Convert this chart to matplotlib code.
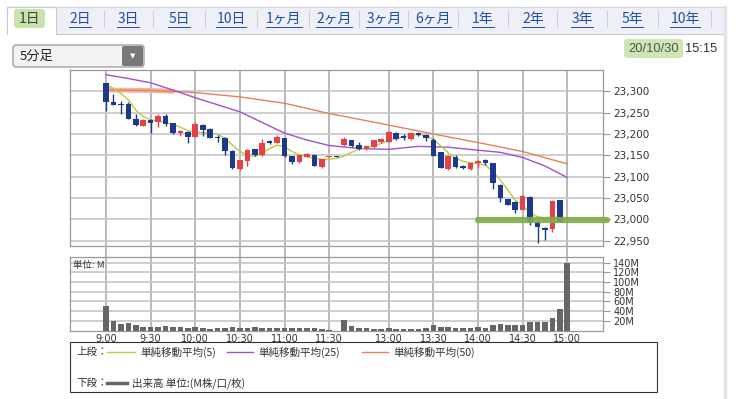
import matplotlib
matplotlib.use("Agg")
import matplotlib.pyplot as plt
from matplotlib.patches import Rectangle, FancyBboxPatch
import numpy as np

plt.rcParams['font.family'] = ['Noto Sans CJK JP', 'DejaVu Sans']

W, H = 737, 399

# 5分足: slot 0 = 9:00 ... 30/31 = 前場引け, 32 = 12:30 ... 62 = 15:00
opens = [23319, 23274, 23271, 23270, 23236, 23219, 23233, 23227, 23243, 23225,
         23202, 23205, 23194, 23221, 23212, 23194, 23190, 23161, 23117, 23137,
         23164, 23150, 23184, 23180, 23190, 23148, 23134, 23147, 23151, 23123,
         23146, 23148,
         23174, 23186, 23174, 23166, 23170, 23182, 23182, 23202, 23196, 23188,
         23202, 23198, 23186, 23157, 23118, 23147, 23126, 23118, 23131, 23139,
         23131, 23080, 23047, 23041, 23022, 23053, 22994, 22979, 22977, 23045,
         22974]
highs = [23320, 23294, 23278, 23276, 23248, 23234, 23235, 23246, 23246, 23226,
         23209, 23206, 23227, 23223, 23215, 23197, 23194, 23162, 23140, 23166,
         23165, 23188, 23187, 23197, 23191, 23149, 23151, 23155, 23152, 23142,
         23148, 23148,
         23194, 23187, 23181, 23173, 23187, 23190, 23207, 23204, 23199, 23203,
         23204, 23200, 23190, 23158, 23150, 23150, 23128, 23135, 23138, 23141,
         23132, 23082, 23048, 23042, 23056, 23054, 22996, 22983, 23045, 23046,
         22976]
lows = [23255, 23268, 23246, 23235, 23219, 23218, 23203, 23217, 23219, 23201,
        23195, 23178, 23193, 23195, 23190, 23181, 23151, 23119, 23116, 23126,
        23149, 23149, 23177, 23179, 23147, 23130, 23133, 23146, 23125, 23120,
        23146, 23146,
        23172, 23170, 23163, 23163, 23167, 23178, 23181, 23186, 23187, 23186,
        23196, 23184, 23148, 23120, 23115, 23121, 23117, 23115, 23122, 23127,
        23072, 23040, 23033, 23016, 23021, 22986, 22945, 22952, 22971, 22993,
        22974]
closes = [23274, 23269, 23267, 23236, 23222, 23233, 23225, 23243, 23223, 23202,
          23207, 23194, 23223, 23209, 23191, 23190, 23159, 23120, 23139, 23163,
          23150, 23180, 23179, 23194, 23148, 23134, 23150, 23153, 23126, 23141,
          23148, 23146,
          23188, 23173, 23166, 23172, 23186, 23188, 23205, 23188, 23190, 23202,
          23198, 23190, 23149, 23121, 23149, 23122, 23121, 23133, 23137, 23132,
          23084, 23049, 23034, 23022, 23055, 22994, 22981, 22974, 23044, 22994,
          22976]
volumes = [51, 19, 14, 16, 11, 8, 8, 8, 9, 8, 7, 6, 8, 6, 4, 5, 5, 7, 6, 5,
           7, 6, 5, 6, 5, 5, 6, 5, 6, 3, 1, 0,
           21, 9, 5, 5, 4, 4, 5, 3, 3, 3, 4, 5, 11, 8, 7, 6, 5, 6,
           7, 5, 11, 13, 11, 11, 11, 18, 18, 18, 26, 45, 140]

# 移動平均 (読み取り値)
sma5 = [23315, 23307, 23295, 23280, 23256, 23241, 23233, 23230, 23227, 23223,
        23216, 23208, 23205, 23203, 23202, 23199, 23190, 23174, 23159, 23151,
        23147, 23155, 23166, 23174, 23170, 23159, 23151, 23147, 23143, 23141,
        23141, 23143, 23149, 23157, 23164, 23168, 23172, 23178, 23184, 23190,
        23194, 23196, 23199, 23196, 23188, 23172, 23156, 23143, 23136, 23132,
        23131, 23127, 23112, 23092, 23069, 23045, 23033, 23015, 23006, 23003,
        23006, 23002]
sma25_slots = [0, 3, 6, 9, 12, 18, 24, 27, 30, 34, 38, 42, 46, 50, 53, 56, 59, 62]
sma25 = [23339, 23330, 23320, 23303, 23285, 23252, 23202, 23186, 23173, 23166,
         23164, 23171, 23169, 23162, 23157, 23145, 23125, 23098]
sma50_slots = [0, 6, 9, 12, 18, 24, 30, 38, 44, 50, 56, 62]
sma50 = [23303, 23302, 23300, 23297, 23287, 23272, 23248, 23221, 23200, 23180,
         23159, 23130]

time_slots = [0, 6, 12, 18, 24, 30, 38, 44, 50, 56, 62]
time_labels = ['9:00', '9:30', '10:00', '10:30', '11:00', '11:30',
               '13:00', '13:30', '14:00', '14:30', '15:00']
price_ticks = [22950, 23000, 23050, 23100, 23150, 23200, 23250, 23300]
vol_ticks = [20, 40, 60, 80, 100, 120, 140]

tabs = ['1日', '2日', '3日', '5日', '10日', '1ヶ月', '2ヶ月', '3ヶ月', '6ヶ月',
        '1年', '2年', '3年', '5年', '10年']
tab_x = [30, 80, 128, 179, 231, 284, 334, 384, 433, 483, 533, 582, 632, 685]

BLUE = '#1c3a8c'
RED = '#e6414b'
GRID_H = '#c6c6c6'
GRID_V = '#b2b2b2'
FRAME = '#9a9a9a'


def rect(l, t, r, b):
    return [l / W, 1 - b / H, (r - l) / W, (b - t) / H]


fig = plt.figure(figsize=(W / 100, H / 100), dpi=100, facecolor='white')

# 背景レイヤー (ピクセル座標)
bg = fig.add_axes([0, 0, 1, 1])
bg.set_xlim(0, W)
bg.set_ylim(H, 0)
bg.axis('off')

# タブ
bg.add_patch(Rectangle((7, 7), 718, 27, facecolor='#eff0f7', edgecolor='none'))
bg.plot([7, 725], [7, 7], color='#d6d6de', lw=0.8)
bg.plot([56, 725], [34, 34], color='#c9c9d3', lw=0.8)
bg.add_patch(Rectangle((7, 7), 49, 28, facecolor='white', edgecolor='none'))
bg.plot([7, 7, 56, 56], [34, 7, 7, 34], color='#c9c9d3', lw=0.8)
bg.add_patch(FancyBboxPatch((14, 9), 31, 19, boxstyle='round,pad=0,rounding_size=3',
                            facecolor='#c9e3ad', edgecolor='none'))
bg.plot([725, 725], [7, H], color='#e3e3e8', lw=2.5)

tab_texts = []
for k, (lab, tx) in enumerate(zip(tabs, tab_x)):
    col = '#404040' if k == 0 else '#1f4fa3'
    t = bg.text(tx, 18.5, lab, ha='center', va='center', fontsize=10, color=col)
    tab_texts.append(t)
    if k >= 1:
        if k < len(tabs) - 1:
            dx = (tx + tab_x[k + 1]) / 2
        else:
            dx = tx + 26
        bg.plot([dx, dx], [11, 27], color='#cfcfd8', lw=0.8)

# 足種ドロップダウン
bg.add_patch(FancyBboxPatch((13, 45), 131, 22, boxstyle='round,pad=0,rounding_size=3',
                            facecolor='#f3f3f3', edgecolor='#8c8c8c', lw=0.8))
bg.add_patch(FancyBboxPatch((122, 46), 21, 20, boxstyle='round,pad=0,rounding_size=2',
                            facecolor='#787878', edgecolor='none'))
bg.text(132.5, 56, '▼', ha='center', va='center', fontsize=5, color='white',
        family=['DejaVu Sans'])
bg.text(20, 56.5, '5分足', ha='left', va='center', fontsize=9.5, color='#222222')

# 日時
bg.add_patch(FancyBboxPatch((624, 39), 59, 19, boxstyle='round,pad=0,rounding_size=3',
                            facecolor='#cfe6b4', edgecolor='none'))
bg.text(654, 48.5, '20/10/30', ha='center', va='center', fontsize=9.3, color='#555555',
        family=['Liberation Sans'])
bg.text(701, 48.5, '15:15', ha='center', va='center', fontsize=9.3, color='#333333',
        family=['Liberation Sans'])

# 凡例
bg.add_patch(Rectangle((70, 342), 587, 50, facecolor='none', edgecolor='#333333', lw=0.8))
bg.text(76, 352, '上段：', ha='left', va='center', fontsize=7.6, color='#333333')
bg.text(76, 383, '下段：', ha='left', va='center', fontsize=7.6, color='#333333')
legend_items = [(107, 135, '#b9cc3e', '単純移動平均(5)'),
                (227, 253, '#a24fd6', '単純移動平均(25)'),
                (362, 388, '#e8805a', '単純移動平均(50)')]
for x0, x1, col, lab in legend_items:
    bg.plot([x0, x1], [352, 352], color=col, lw=1)
    bg.text(x1 + 5, 352, lab, ha='left', va='center', fontsize=7.6, color='#333333')
bg.plot([107, 127], [383, 383], color='#666666', lw=2.5)
bg.text(132, 383, '出来高 単位:(M株/口/枚)', ha='left', va='center', fontsize=7.6,
        color='#333333')

XMIN, XMAX = -4.84, 66.8
x = np.arange(len(opens))
o = np.array(opens)
c = np.array(closes)
colors = [RED if cc >= oo else BLUE for oo, cc in zip(o, c)]

# ローソク足
ax = fig.add_axes(rect(70, 70, 603, 246))
ax.set_xlim(XMIN, XMAX)
ax.set_ylim(22937.5, 23350)
ax.set_xticks(time_slots)
ax.set_yticks(price_ticks)
ax.set_yticklabels([f'{p:,}' for p in price_ticks], family=['DejaVu Sans'])
ax.tick_params(axis='x', length=0, labelbottom=False)
ax.yaxis.tick_right()
ax.tick_params(axis='y', length=5, width=0.8, color=FRAME, labelsize=7.5,
               labelcolor='#333333', pad=2.5)
ax.xaxis.grid(True, color=GRID_V, lw=1.3)
ax.yaxis.grid(True, color=GRID_H, lw=1.2)
ax.set_axisbelow(True)
for s in ax.spines.values():
    s.set_color(FRAME)
    s.set_linewidth(0.9)

ax.plot(sma50_slots[:3], sma50[:3], color='#f1b4a2', lw=3.5, solid_capstyle='round')
ax.plot(sma50_slots, sma50, color='#e8805a', lw=1)
ax.plot(sma25_slots, sma25, color='#a24fd6', lw=1)
ax.plot(range(len(sma5)), sma5, color='#b9cc3e', lw=1)

ax.vlines(x, lows, highs, colors=colors, lw=1)
ax.bar(x, np.maximum(np.abs(c - o), 1.5), bottom=np.minimum(o, c), width=0.75,
       color=colors, zorder=3)

ax.plot([50, 67.3], [22998, 22998], color='#7eab48', lw=4.5, alpha=0.9,
        solid_capstyle='round', clip_on=False, zorder=4)

# パネル間
gap = fig.add_axes(rect(70, 246, 603, 257))
gap.set_xlim(XMIN, XMAX)
gap.set_ylim(0, 1)
gap.axis('off')
gap.vlines(time_slots, 0, 1, colors=GRID_V, lw=1.3)

# 出来高
ax2 = fig.add_axes(rect(70, 257, 603, 330.5))
ax2.set_xlim(XMIN, XMAX)
ax2.set_ylim(0, 152)
ax2.bar(x, volumes, width=0.75, color='#666666', zorder=3)
ax2.set_xticks(time_slots)
ax2.set_xticklabels(time_labels, family=['DejaVu Sans'])
ax2.tick_params(axis='x', length=0, labelsize=7, labelcolor='#333333', pad=2.5)
ax2.set_yticks(vol_ticks)
ax2.set_yticklabels([f'{v}M' for v in vol_ticks], family=['DejaVu Sans'])
ax2.yaxis.tick_right()
ax2.tick_params(axis='y', length=5, width=0.8, color=FRAME, labelsize=7,
                labelcolor='#333333', pad=2.5)
ax2.xaxis.grid(True, color=GRID_V, lw=1.3)
ax2.yaxis.grid(True, color=GRID_H, lw=1.2)
ax2.set_axisbelow(True)
for s in ax2.spines.values():
    s.set_color(FRAME)
    s.set_linewidth(0.9)
ax2.text(0.006, 0.89, '単位: M', transform=ax2.transAxes, ha='left', va='center',
         fontsize=6.8, color='#333333')

# タブのリンク下線
fig.canvas.draw()
renderer = fig.canvas.get_renderer()
inv = bg.transData.inverted()
for t in tab_texts[1:]:
    bb = t.get_window_extent(renderer)
    (x0, _), (x1, _) = inv.transform([(bb.x0, bb.y0), (bb.x1, bb.y0)])
    bg.plot([x0, x1], [26.5, 26.5], color='#1f4fa3', lw=0.7)

fig.savefig('out.png', dpi=100, facecolor='white')
